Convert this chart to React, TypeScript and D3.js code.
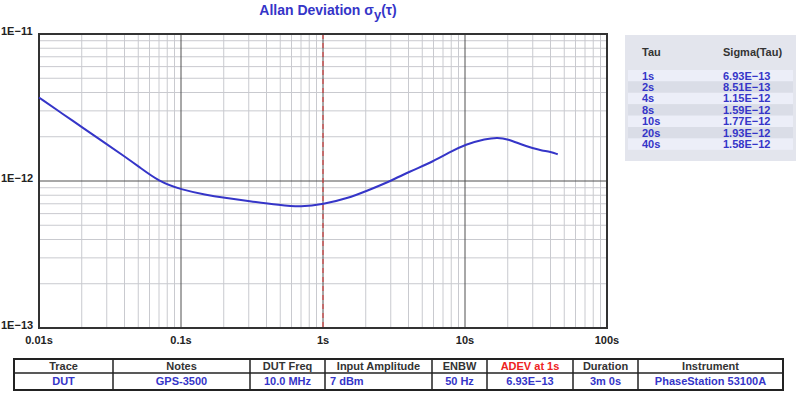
import React from "react";
import * as d3 from "d3";

// curve
const tauValues = [0.01, 0.015, 0.02, 0.03, 0.04, 0.05, 0.07, 0.1, 0.15, 0.2, 0.3, 0.5, 0.7, 1, 1.5, 2, 3, 4, 6, 8, 10, 14, 17, 20, 25, 30, 35, 40, 45];
const sigmaValues = [3.7e-12, 2.82e-12, 2.33e-12, 1.78e-12, 1.47e-12, 1.26e-12, 9.9e-13, 8.75e-13, 8.05e-13, 7.7e-13, 7.3e-13, 6.85e-13, 6.65e-13, 6.93e-13, 7.65e-13, 8.51e-13, 1.0e-12, 1.15e-12, 1.36e-12, 1.59e-12, 1.77e-12, 1.94e-12, 1.98e-12, 1.93e-12, 1.77e-12, 1.67e-12, 1.61e-12, 1.58e-12, 1.52e-12];

const xTickLabels = ["0.01s", "0.1s", "1s", "10s", "100s"];
const xTickValues = [0.01, 0.1, 1, 10, 100];
const yTickLabels = ["1E−13", "1E−12", "1E−11"];
const yTickValues = [1e-13, 1e-12, 1e-11];

const tableTau = ["1s", "2s", "4s", "8s", "10s", "20s", "40s"];
const tableSigma = ["6.93E−13", "8.51E−13", "1.15E−12", "1.59E−12", "1.77E−12", "1.93E−12", "1.58E−12"];

const infoHeaders = ["Trace", "Notes", "DUT Freq", "Input Amplitude", "ENBW", "ADEV at 1s", "Duration", "Instrument"];
const infoValues = ["DUT", "GPS-3500", "10.0 MHz", "7 dBm", "50 Hz", "6.93E−13", "3m 0s", "PhaseStation 53100A"];
const infoEdges = [14, 113, 250, 325, 432, 487, 573, 638, 783];

const BLUE = "#3535c8";
const FONT = "'Liberation Sans', Arial, sans-serif";

export default function App() {
  const left = 39, right = 607, top = 34, bottom = 328;
  const x = d3.scaleLog().domain([0.01, 100]).range([left, right]);
  const y = d3.scaleLog().domain([1e-13, 1e-11]).range([bottom, top]);

  const minorX: number[] = [];
  for (const d of [0.01, 0.1, 1, 10]) for (let k = 2; k <= 9; k++) minorX.push(d * k);
  const minorY: number[] = [];
  for (const d of [1e-13, 1e-12]) for (let k = 2; k <= 9; k++) minorY.push(d * k);

  const pts = tauValues.map((t, i) => [t, sigmaValues[i]] as [number, number]);
  const line = d3
    .line<[number, number]>()
    .x((d) => x(d[0]))
    .y((d) => y(d[1]))
    .curve(d3.curveBasis);

  const rowH = 11.4;
  const rowTop = 70;

  return (
    <svg width={800} height={393} style={{ position: "absolute", left: 0, top: 0, background: "#fff" }} fontFamily={FONT}>
      <text x={328} y={15} textAnchor="middle" fontSize={14} fontWeight="bold" fill={BLUE}>
        Allan Deviation σ<tspan dy={4} fontSize={13}>y</tspan>
        <tspan dy={-4}>(τ)</tspan>
      </text>

      {/* grid */}
      {minorX.map((v) => (
        <line key={"mx" + v} x1={x(v)} x2={x(v)} y1={top} y2={bottom} stroke="#c9cacf" strokeWidth={1} />
      ))}
      {minorY.map((v) => (
        <line key={"my" + v} x1={left} x2={right} y1={y(v)} y2={y(v)} stroke="#c9cacf" strokeWidth={1} />
      ))}
      {xTickValues.map((v) => (
        <line key={"Mx" + v} x1={x(v)} x2={x(v)} y1={top} y2={bottom} stroke="#505050" strokeWidth={1} />
      ))}
      {yTickValues.map((v) => (
        <line key={"My" + v} x1={left} x2={right} y1={y(v)} y2={y(v)} stroke="#505050" strokeWidth={1} />
      ))}
      <line x1={x(1)} x2={x(1)} y1={top} y2={bottom} stroke="#e03030" strokeWidth={1} strokeDasharray="5,4" />
      <rect x={left} y={top} width={right - left} height={bottom - top} fill="none" stroke="#333" strokeWidth={2} />

      <path d={line(pts) ?? ""} fill="none" stroke={BLUE} strokeWidth={2} />

      {xTickValues.map((v, i) => (
        <text key={"xl" + v} x={x(v)} y={344} textAnchor="middle" fontSize={11} fontWeight="bold" fill="#222">
          {xTickLabels[i]}
        </text>
      ))}
      {yTickValues.map((v, i) => (
        <text key={"yl" + v} x={1} y={y(v) + 1} fontSize={11} fontWeight="bold" fill="#222">
          {yTickLabels[i]}
        </text>
      ))}

      {/* tau / sigma panel */}
      <rect x={625} y={35} width={171} height={126} fill="#e3e5ed" />
      {tableTau.map((t, i) => (
        <g key={"r" + t}>
          <rect x={628} y={rowTop + i * rowH} width={165} height={rowH} fill={i % 2 === 0 ? "#eceef8" : "#dadde7"} />
          <text x={642} y={rowTop + i * rowH + 9.5} fontSize={11} fontWeight="bold" fill={BLUE}>
            {t}
          </text>
          <text x={723} y={rowTop + i * rowH + 9.5} fontSize={11} fontWeight="bold" fill={BLUE}>
            {tableSigma[i]}
          </text>
        </g>
      ))}
      <text x={642} y={56} fontSize={11} fontWeight="bold" fill="#333">Tau</text>
      <text x={723} y={56} fontSize={11} fontWeight="bold" fill="#333">Sigma(Tau)</text>

      {/* info table */}
      <rect x={infoEdges[0]} y={359} width={infoEdges[8] - infoEdges[0]} height={31} fill="#fff" stroke="#222" strokeWidth={2} />
      <line x1={infoEdges[0]} x2={infoEdges[8]} y1={373} y2={373} stroke="#222" strokeWidth={1.5} />
      {infoEdges.slice(1, 8).map((e) => (
        <line key={"e" + e} x1={e} x2={e} y1={359} y2={390} stroke="#222" strokeWidth={1.5} />
      ))}
      {infoHeaders.map((h, i) => {
        const cx = (infoEdges[i] + infoEdges[i + 1]) / 2;
        return (
          <text key={"h" + h} x={cx} y={370} textAnchor="middle" fontSize={11} fontWeight="bold" fill={i === 5 ? "#ee2222" : "#333"}>
            {h}
          </text>
        );
      })}
      {infoValues.map((v, i) => {
        const cx = (infoEdges[i] + infoEdges[i + 1]) / 2;
        const leftAlign = i === 3;
        return (
          <text
            key={"v" + i}
            x={leftAlign ? infoEdges[i] + 5 : cx}
            y={385}
            textAnchor={leftAlign ? "start" : "middle"}
            fontSize={11}
            fontWeight="bold"
            fill={BLUE}
          >
            {v}
          </text>
        );
      })}
    </svg>
  );
}
